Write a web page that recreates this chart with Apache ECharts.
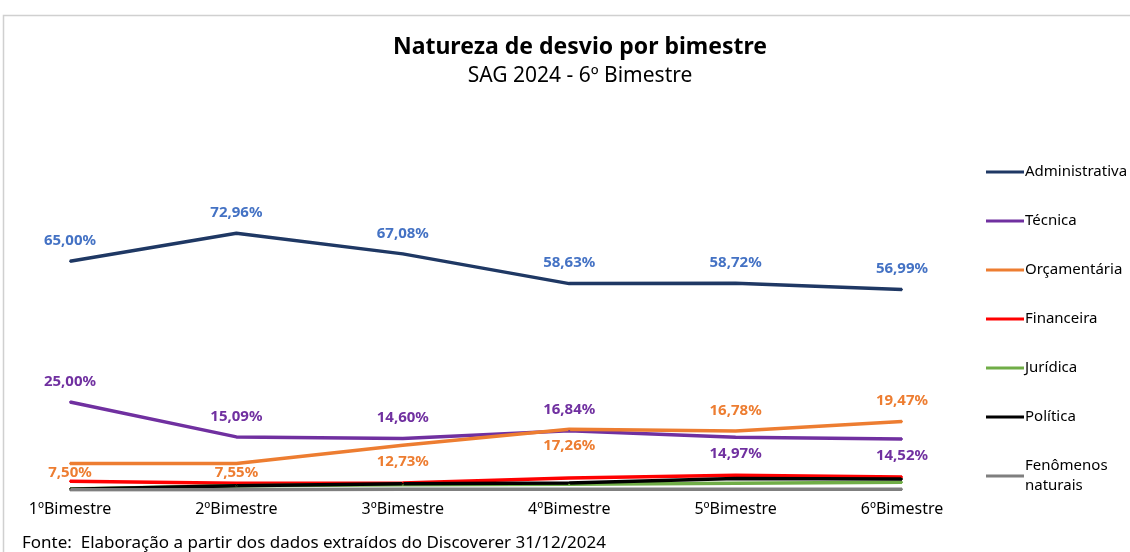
<!DOCTYPE html>
<html>
<head>
<meta charset="utf-8">
<script src="https://cdn.jsdelivr.net/npm/echarts@6/dist/echarts.min.js"></script>
<style>
  html, body { margin: 0; padding: 0; background: #fff; }
  #chart { width: 1130px; height: 552px; }
</style>
</head>
<body>
<div id="chart"></div>
<script>
const categories = ['1ºBimestre', '2ºBimestre', '3ºBimestre', '4ºBimestre', '5ºBimestre', '6ºBimestre'];
const administrativa = [65.00, 72.96, 67.08, 58.63, 58.72, 56.99];
const tecnica = [25.00, 15.09, 14.60, 16.84, 14.97, 14.52];
const orcamentaria = [7.50, 7.55, 12.73, 17.26, 16.78, 19.47];
const financeira = [2.5, 1.9, 2.0, 3.4, 4.2, 3.7];
const juridica = [0.3, 1.2, 1.5, 1.6, 1.9, 2.2];
const politica = [0.2, 1.2, 1.8, 2.0, 3.3, 3.1];
const fenomenos = [0.1, 0.1, 0.2, 0.2, 0.2, 0.2];

// onde cada rótulo fica em relação ao ponto
const adminPos = ['top', 'top', 'top', 'top', 'top', 'top'];
const tecnicaPos = ['top', 'top', 'top', 'top', 'bottom', 'bottom'];
const orcamentariaPos = ['bottom', 'bottom', 'bottom', 'bottom', 'top', 'top'];
const orcamentariaDy = [-7, -7, 0, 0, 0, 0];

const fmt = p => p.value.toFixed(2).replace('.', ',') + '%';
const font = 'Noto Sans';

const withLabels = (values, pos, color, dy) => values.map((v, i) => ({
  value: v,
  label: { show: true, position: pos[i], distance: pos[i] === 'top' ? 12 : 8,
    offset: [0, dy ? dy[i] : 0], color, formatter: fmt,
    fontFamily: font, fontWeight: 'bold', fontSize: 15 }
}));

const line = (name, data, color) => ({
  name,
  type: 'line',
  data,
  symbol: 'circle',
  symbolSize: 2,
  itemStyle: { color },
  lineStyle: { color, width: 3.5 },
  emphasis: { disabled: true },
  animation: false
});

const chart = echarts.init(document.getElementById('chart'));
chart.setOption({
  backgroundColor: '#fff',
  title: {
    text: 'Natureza de desvio por bimestre',
    subtext: 'SAG 2024 - 6º Bimestre',
    left: 575,
    textAlign: 'center',
    top: 31,
    itemGap: 7,
    textStyle: { fontFamily: font, fontSize: 23, fontWeight: 'bold', color: '#000' },
    subtextStyle: { fontFamily: font, fontSize: 21, color: '#000' }
  },
  legend: {
    orient: 'vertical',
    left: 981,
    top: 157,
    itemWidth: 38,
    itemHeight: 3,
    itemGap: 29,
    icon: 'rect',
    textStyle: { fontFamily: font, fontSize: 15, lineHeight: 20, color: '#000', padding: [0, 0, 0, -4] },
    formatter: name => name.replace(' ', '\n'),
    selectedMode: false
  },
  grid: { left: 70, right: 228, top: 138, bottom: 62 },
  xAxis: {
    type: 'category',
    data: categories,
    boundaryGap: false,
    axisLine: { show: false },
    axisTick: { show: false },
    axisLabel: { fontFamily: font, fontSize: 16, color: '#000', margin: 11 }
  },
  yAxis: {
    type: 'value',
    min: 0,
    max: 100,
    show: false
  },
  graphic: [
    { type: 'rect', shape: { x: 3.5, y: 15.5, width: 1200, height: 600 },
      style: { fill: 'none', stroke: '#d0d0d0', lineWidth: 1.5 }, silent: true },
    { type: 'text', left: 22, top: 535,
      style: { text: 'Fonte:  Elaboração a partir dos dados extraídos do Discoverer 31/12/2024',
        font: '17px "Noto Sans"', fill: '#000' } }
  ],
  series: [
    line('Administrativa', withLabels(administrativa, adminPos, '#4472C4'), '#1F3864'),
    line('Técnica', withLabels(tecnica, tecnicaPos, '#7030A0'), '#7030A0'),
    line('Orçamentária', withLabels(orcamentaria, orcamentariaPos, '#ED7D31', orcamentariaDy), '#ED7D31'),
    line('Financeira', financeira, '#FF0000'),
    line('Jurídica', juridica, '#70AD47'),
    line('Política', politica, '#000000'),
    line('Fenômenos naturais', fenomenos, '#7F7F7F')
  ]
});
</script>
</body>
</html>
